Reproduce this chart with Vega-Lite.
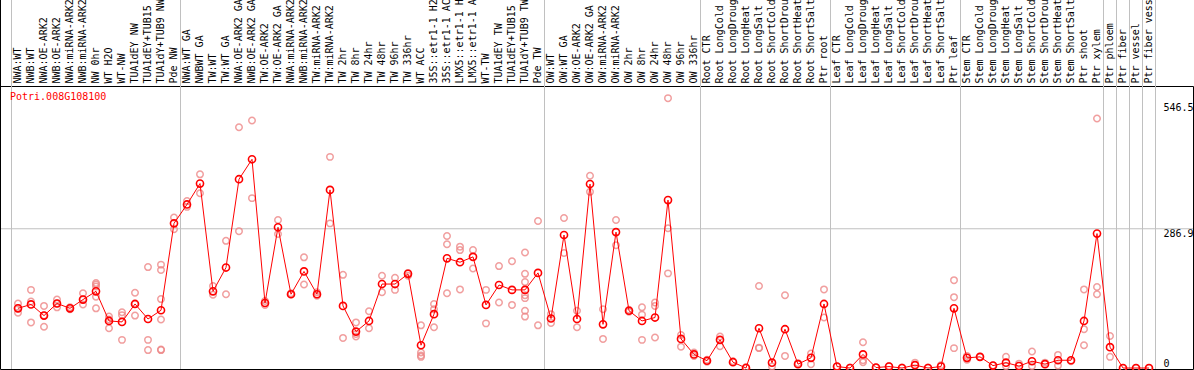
{
  "$schema": "https://vega.github.io/schema/vega-lite/v6.json",
  "width": 1193,
  "height": 283,
  "autosize": "none",
  "padding": {"left": 0, "top": 86, "right": 1, "bottom": 1},
  "background": "white",
  "config": {
    "font": "DejaVu Sans Mono",
    "view": {"stroke": "black", "strokeWidth": 1}
  },
  "datasets": {
    "means": [
      {"s": "NWA:WT", "v": 123}, {"s": "NWB:WT", "v": 131}, {"s": "NWA:OE-ARK2", "v": 108}, {"s": "NWB:OE-ARK2", "v": 133},
      {"s": "NWA:miRNA-ARK2", "v": 123}, {"s": "NWB:miRNA-ARK2", "v": 141}, {"s": "NW 0hr", "v": 158}, {"s": "WT H2O", "v": 97},
      {"s": "WT-NW", "v": 95}, {"s": "TUA1dEY NW", "v": 132}, {"s": "TUA1dEY+TUB15 NW", "v": 101}, {"s": "TUA1dY+TUB9 NW", "v": 119},
      {"s": "Pde NW", "v": 298}, {"s": "NWA:WT GA", "v": 337}, {"s": "NWBWT GA", "v": 380}, {"s": "TW:WT", "v": 158},
      {"s": "TW:WT GA", "v": 207}, {"s": "NWA:OE-ARK2 GA", "v": 389}, {"s": "NWB:OE-ARK2 GA", "v": 430}, {"s": "TW:OE-ARK2", "v": 134},
      {"s": "TW:OE-ARK2 GA", "v": 290}, {"s": "NWA:miRNA-ARK2 GA", "v": 152}, {"s": "NWB:miRNA-ARK2 GA", "v": 199}, {"s": "TW:miRNA-ARK2", "v": 152},
      {"s": "TW:miRNA-ARK2 GA", "v": 367}, {"s": "TW 2hr", "v": 128}, {"s": "TW 8hr", "v": 75}, {"s": "TW 24hr", "v": 97},
      {"s": "TW 48hr", "v": 173}, {"s": "TW 96hr", "v": 173}, {"s": "TW 336hr", "v": 194}, {"s": "WT ACC", "v": 47},
      {"s": "35S::etr1-1 H2O", "v": 111}, {"s": "35S::etr1-1 ACC", "v": 226}, {"s": "LMX5::etr1-1 H2O", "v": 218}, {"s": "LMX5::etr1-1 ACC", "v": 229},
      {"s": "WT-TW", "v": 130}, {"s": "TUA1dEY TW", "v": 171}, {"s": "TUA1dEY+TUB15 TW", "v": 161}, {"s": "TUA1dY+TUB9 TW", "v": 161},
      {"s": "Pde TW", "v": 196}, {"s": "OW:WT", "v": 102}, {"s": "OW:WT GA", "v": 274}, {"s": "OW:OE-ARK2", "v": 101},
      {"s": "OW:OE-ARK2 GA", "v": 379}, {"s": "OW:miRNA-ARK2", "v": 90}, {"s": "OW:miRNA-ARK2 GA", "v": 280}, {"s": "OW 2hr", "v": 118},
      {"s": "OW 8hr", "v": 97}, {"s": "OW 24hr", "v": 104}, {"s": "OW 48hr", "v": 346}, {"s": "OW 96hr", "v": 60},
      {"s": "OW 336hr", "v": 28}, {"s": "Root CTR", "v": 15}, {"s": "Root LongCold", "v": 58}, {"s": "Root LongDrought", "v": 12},
      {"s": "Root LongHeat", "v": 0}, {"s": "Root LongSalt", "v": 82}, {"s": "Root ShortCold", "v": 11}, {"s": "Root ShortDrought", "v": 80},
      {"s": "Root ShortHeat", "v": 8}, {"s": "Root ShortSalt", "v": 21}, {"s": "Ptr root", "v": 132}, {"s": "Leaf CTR", "v": 3},
      {"s": "Leaf LongCold", "v": 0}, {"s": "Leaf LongDrought", "v": 28}, {"s": "Leaf LongHeat", "v": 1}, {"s": "Leaf LongSalt", "v": 3},
      {"s": "Leaf ShortCold", "v": 0}, {"s": "Leaf ShortDrought", "v": 6}, {"s": "Leaf ShortHeat", "v": 0}, {"s": "Leaf ShortSalt", "v": 3},
      {"s": "Ptr leaf", "v": 123}, {"s": "Stem CTR", "v": 21}, {"s": "Stem LongCold", "v": 23}, {"s": "Stem LongDrought", "v": 5},
      {"s": "Stem LongHeat", "v": 11}, {"s": "Stem LongSalt", "v": 4}, {"s": "Stem ShortCold", "v": 14}, {"s": "Stem ShortDrought", "v": 8},
      {"s": "Stem ShortHeat", "v": 16}, {"s": "Stem ShortSalt", "v": 16}, {"s": "Ptr shoot", "v": 97}, {"s": "Ptr xylem", "v": 277},
      {"s": "Ptr phloem", "v": 43}, {"s": "Ptr fiber", "v": 0}, {"s": "Ptr vessel", "v": 0}, {"s": "Ptr fiber vessel", "v": 0}
    ],
    "reps": [
      {"s": "NWA:WT", "v": 133}, {"s": "NWA:WT", "v": 123}, {"s": "NWA:WT", "v": 114},
      {"s": "NWB:WT", "v": 161}, {"s": "NWB:WT", "v": 137}, {"s": "NWB:WT", "v": 94},
      {"s": "NWA:OE-ARK2", "v": 128}, {"s": "NWA:OE-ARK2", "v": 108}, {"s": "NWA:OE-ARK2", "v": 85},
      {"s": "NWB:OE-ARK2", "v": 141}, {"s": "NWB:OE-ARK2", "v": 133}, {"s": "NWB:OE-ARK2", "v": 125},
      {"s": "NWA:miRNA-ARK2", "v": 125}, {"s": "NWA:miRNA-ARK2", "v": 121},
      {"s": "NWB:miRNA-ARK2", "v": 154}, {"s": "NWB:miRNA-ARK2", "v": 131}, {"s": "NWB:miRNA-ARK2", "v": 141},
      {"s": "NW 0hr", "v": 175}, {"s": "NW 0hr", "v": 172}, {"s": "NW 0hr", "v": 168}, {"s": "NW 0hr", "v": 147}, {"s": "NW 0hr", "v": 123},
      {"s": "WT H2O", "v": 106}, {"s": "WT H2O", "v": 82}, {"s": "WT H2O", "v": 100},
      {"s": "WT-NW", "v": 115}, {"s": "WT-NW", "v": 109}, {"s": "WT-NW", "v": 58},
      {"s": "TUA1dEY NW", "v": 155}, {"s": "TUA1dEY NW", "v": 108}, {"s": "TUA1dEY NW", "v": 132},
      {"s": "TUA1dEY+TUB15 NW", "v": 208}, {"s": "TUA1dEY+TUB15 NW", "v": 58}, {"s": "TUA1dEY+TUB15 NW", "v": 37},
      {"s": "TUA1dY+TUB9 NW", "v": 213}, {"s": "TUA1dY+TUB9 NW", "v": 202}, {"s": "TUA1dY+TUB9 NW", "v": 142}, {"s": "TUA1dY+TUB9 NW", "v": 100}, {"s": "TUA1dY+TUB9 NW", "v": 38}, {"s": "TUA1dY+TUB9 NW", "v": 37},
      {"s": "Pde NW", "v": 310}, {"s": "Pde NW", "v": 286},
      {"s": "NWA:WT GA", "v": 344}, {"s": "NWA:WT GA", "v": 332},
      {"s": "NWBWT GA", "v": 399}, {"s": "NWBWT GA", "v": 360},
      {"s": "TW:WT", "v": 169}, {"s": "TW:WT", "v": 151},
      {"s": "TW:WT GA", "v": 262}, {"s": "TW:WT GA", "v": 152},
      {"s": "NWA:OE-ARK2 GA", "v": 496}, {"s": "NWA:OE-ARK2 GA", "v": 282},
      {"s": "NWB:OE-ARK2 GA", "v": 510}, {"s": "NWB:OE-ARK2 GA", "v": 350},
      {"s": "TW:OE-ARK2", "v": 130}, {"s": "TW:OE-ARK2", "v": 138},
      {"s": "TW:OE-ARK2 GA", "v": 305}, {"s": "TW:OE-ARK2 GA", "v": 276},
      {"s": "NWA:miRNA-ARK2 GA", "v": 154}, {"s": "NWA:miRNA-ARK2 GA", "v": 152},
      {"s": "NWB:miRNA-ARK2 GA", "v": 228}, {"s": "NWB:miRNA-ARK2 GA", "v": 172},
      {"s": "TW:miRNA-ARK2", "v": 156}, {"s": "TW:miRNA-ARK2", "v": 149},
      {"s": "TW:miRNA-ARK2 GA", "v": 435}, {"s": "TW:miRNA-ARK2 GA", "v": 298},
      {"s": "TW 2hr", "v": 192}, {"s": "TW 2hr", "v": 62},
      {"s": "TW 8hr", "v": 94}, {"s": "TW 8hr", "v": 65}, {"s": "TW 8hr", "v": 70},
      {"s": "TW 24hr", "v": 117}, {"s": "TW 24hr", "v": 82},
      {"s": "TW 48hr", "v": 190}, {"s": "TW 48hr", "v": 156},
      {"s": "TW 96hr", "v": 186}, {"s": "TW 96hr", "v": 161},
      {"s": "TW 336hr", "v": 196}, {"s": "TW 336hr", "v": 190},
      {"s": "WT ACC", "v": 88}, {"s": "WT ACC", "v": 32}, {"s": "WT ACC", "v": 23}, {"s": "WT ACC", "v": 26},
      {"s": "35S::etr1-1 H2O", "v": 132}, {"s": "35S::etr1-1 H2O", "v": 121}, {"s": "35S::etr1-1 H2O", "v": 84},
      {"s": "35S::etr1-1 ACC", "v": 272}, {"s": "35S::etr1-1 ACC", "v": 255}, {"s": "35S::etr1-1 ACC", "v": 154},
      {"s": "LMX5::etr1-1 H2O", "v": 250}, {"s": "LMX5::etr1-1 H2O", "v": 243}, {"s": "LMX5::etr1-1 H2O", "v": 162},
      {"s": "LMX5::etr1-1 ACC", "v": 243}, {"s": "LMX5::etr1-1 ACC", "v": 205},
      {"s": "WT-TW", "v": 161}, {"s": "WT-TW", "v": 92},
      {"s": "TUA1dEY TW", "v": 210}, {"s": "TUA1dEY TW", "v": 135},
      {"s": "TUA1dEY+TUB15 TW", "v": 220}, {"s": "TUA1dEY+TUB15 TW", "v": 130},
      {"s": "TUA1dY+TUB9 TW", "v": 238}, {"s": "TUA1dY+TUB9 TW", "v": 194}, {"s": "TUA1dY+TUB9 TW", "v": 177}, {"s": "TUA1dY+TUB9 TW", "v": 150}, {"s": "TUA1dY+TUB9 TW", "v": 144}, {"s": "TUA1dY+TUB9 TW", "v": 118}, {"s": "TUA1dY+TUB9 TW", "v": 106},
      {"s": "Pde TW", "v": 303}, {"s": "Pde TW", "v": 88},
      {"s": "OW:WT", "v": 111}, {"s": "OW:WT", "v": 93},
      {"s": "OW:WT GA", "v": 309}, {"s": "OW:WT GA", "v": 237},
      {"s": "OW:OE-ARK2", "v": 118}, {"s": "OW:OE-ARK2", "v": 84},
      {"s": "OW:OE-ARK2 GA", "v": 396}, {"s": "OW:OE-ARK2 GA", "v": 363},
      {"s": "OW:miRNA-ARK2", "v": 121}, {"s": "OW:miRNA-ARK2", "v": 60},
      {"s": "OW:miRNA-ARK2 GA", "v": 305}, {"s": "OW:miRNA-ARK2 GA", "v": 253},
      {"s": "OW 2hr", "v": 116}, {"s": "OW 2hr", "v": 120},
      {"s": "OW 8hr", "v": 125}, {"s": "OW 8hr", "v": 110}, {"s": "OW 8hr", "v": 58},
      {"s": "OW 24hr", "v": 135}, {"s": "OW 24hr", "v": 128}, {"s": "OW 24hr", "v": 63},
      {"s": "OW 48hr", "v": 556}, {"s": "OW 48hr", "v": 288}, {"s": "OW 48hr", "v": 195},
      {"s": "OW 96hr", "v": 68}, {"s": "OW 96hr", "v": 44},
      {"s": "OW 336hr", "v": 32}, {"s": "OW 336hr", "v": 25},
      {"s": "Root CTR", "v": 17}, {"s": "Root CTR", "v": 13},
      {"s": "Root LongCold", "v": 65}, {"s": "Root LongCold", "v": 45},
      {"s": "Root LongDrought", "v": 14},
      {"s": "Root LongHeat", "v": 2},
      {"s": "Root LongSalt", "v": 169}, {"s": "Root LongSalt", "v": 42}, {"s": "Root LongSalt", "v": 41},
      {"s": "Root ShortCold", "v": 3},
      {"s": "Root ShortDrought", "v": 150}, {"s": "Root ShortDrought", "v": 25},
      {"s": "Root ShortHeat", "v": 10},
      {"s": "Root ShortSalt", "v": 30}, {"s": "Root ShortSalt", "v": 8},
      {"s": "Ptr root", "v": 162}, {"s": "Ptr root", "v": 104},
      {"s": "Leaf CTR", "v": 3},
      {"s": "Leaf LongCold", "v": 1},
      {"s": "Leaf LongDrought", "v": 53}, {"s": "Leaf LongDrought", "v": 16}, {"s": "Leaf LongDrought", "v": 12},
      {"s": "Leaf LongHeat", "v": 1},
      {"s": "Leaf LongSalt", "v": 4},
      {"s": "Leaf ShortCold", "v": 1},
      {"s": "Leaf ShortDrought", "v": 11},
      {"s": "Leaf ShortHeat", "v": 1},
      {"s": "Leaf ShortSalt", "v": 6},
      {"s": "Ptr leaf", "v": 181}, {"s": "Ptr leaf", "v": 146}, {"s": "Ptr leaf", "v": 41},
      {"s": "Stem CTR", "v": 25}, {"s": "Stem CTR", "v": 17},
      {"s": "Stem LongCold", "v": 23},
      {"s": "Stem LongDrought", "v": 5},
      {"s": "Stem LongHeat", "v": 23}, {"s": "Stem LongHeat", "v": 4},
      {"s": "Stem LongSalt", "v": 9},
      {"s": "Stem ShortCold", "v": 34}, {"s": "Stem ShortCold", "v": 4},
      {"s": "Stem ShortDrought", "v": 11},
      {"s": "Stem ShortHeat", "v": 27}, {"s": "Stem ShortHeat", "v": 5},
      {"s": "Stem ShortSalt", "v": 14},
      {"s": "Ptr shoot", "v": 162}, {"s": "Ptr shoot", "v": 80}, {"s": "Ptr shoot", "v": 47},
      {"s": "Ptr xylem", "v": 514}, {"s": "Ptr xylem", "v": 167}, {"s": "Ptr xylem", "v": 152},
      {"s": "Ptr phloem", "v": 66}, {"s": "Ptr phloem", "v": 23},
      {"s": "Ptr fiber", "v": 0}, {"s": "Ptr vessel", "v": 0}, {"s": "Ptr fiber vessel", "v": 0}
    ],
    "bounds": [
      {"s": "NWA:WT"}, {"s": "NWA:WT GA"}, {"s": "OW:WT"}, {"s": "Root CTR"}, {"s": "Leaf CTR"},
      {"s": "Stem CTR"}, {"s": "Ptr phloem"}, {"s": "Ptr fiber"}, {"s": "Ptr vessel"}, {"s": "Ptr fiber vessel"}
    ],
    "lastbound": [{"s": "Ptr fiber vessel"}],
    "gridval": [{"v": 286.9}],
    "heading": [{"t": "Potri.008G108100"}]
  },
  "layer": [
    {
      "data": {"name": "bounds"},
      "mark": {"type": "rule", "color": "#c0c0c0", "strokeWidth": 1},
      "encoding": {
        "x": {
          "field": "s",
          "type": "nominal",
          "bandPosition": 0,
          "scale": {
            "type": "band",
            "range": [11.5, 1155.5],
            "paddingInner": 0,
            "paddingOuter": 0,
            "domain": ["NWA:WT","NWB:WT","NWA:OE-ARK2","NWB:OE-ARK2","NWA:miRNA-ARK2","NWB:miRNA-ARK2","NW 0hr","WT H2O","WT-NW","TUA1dEY NW","TUA1dEY+TUB15 NW","TUA1dY+TUB9 NW","Pde NW","NWA:WT GA","NWBWT GA","TW:WT","TW:WT GA","NWA:OE-ARK2 GA","NWB:OE-ARK2 GA","TW:OE-ARK2","TW:OE-ARK2 GA","NWA:miRNA-ARK2 GA","NWB:miRNA-ARK2 GA","TW:miRNA-ARK2","TW:miRNA-ARK2 GA","TW 2hr","TW 8hr","TW 24hr","TW 48hr","TW 96hr","TW 336hr","WT ACC","35S::etr1-1 H2O","35S::etr1-1 ACC","LMX5::etr1-1 H2O","LMX5::etr1-1 ACC","WT-TW","TUA1dEY TW","TUA1dEY+TUB15 TW","TUA1dY+TUB9 TW","Pde TW","OW:WT","OW:WT GA","OW:OE-ARK2","OW:OE-ARK2 GA","OW:miRNA-ARK2","OW:miRNA-ARK2 GA","OW 2hr","OW 8hr","OW 24hr","OW 48hr","OW 96hr","OW 336hr","Root CTR","Root LongCold","Root LongDrought","Root LongHeat","Root LongSalt","Root ShortCold","Root ShortDrought","Root ShortHeat","Root ShortSalt","Ptr root","Leaf CTR","Leaf LongCold","Leaf LongDrought","Leaf LongHeat","Leaf LongSalt","Leaf ShortCold","Leaf ShortDrought","Leaf ShortHeat","Leaf ShortSalt","Ptr leaf","Stem CTR","Stem LongCold","Stem LongDrought","Stem LongHeat","Stem LongSalt","Stem ShortCold","Stem ShortDrought","Stem ShortHeat","Stem ShortSalt","Ptr shoot","Ptr xylem","Ptr phloem","Ptr fiber","Ptr vessel","Ptr fiber vessel"]
          },
          "axis": {
            "orient": "top",
            "title": null,
            "ticks": false,
            "domain": false,
            "grid": false,
            "labelAngle": -90,
            "labelAlign": "left",
            "labelBaseline": "middle",
            "labelPadding": 3,
            "labelFont": "DejaVu Sans Mono",
            "labelFontSize": 10,
            "labelColor": "black",
            "labelOverlap": false,
            "labelLimit": 300
          }
        },
        "y": {
          "datum": 760,
          "type": "quantitative",
          "scale": {"domain": [-2, 581], "nice": false, "zero": false},
          "axis": {
            "orient": "right",
            "title": null,
            "values": [0, 286.9, 546.5],
            "format": ".1~f",
            "ticks": false,
            "domain": false,
            "grid": false,
            "labelAlign": "left",
            "labelPadding": -30,
            "labelBaseline": {"condition": {"test": "datum.value === 0", "value": "bottom"}, "value": "top"},
            "labelFont": "DejaVu Sans Mono",
            "labelFontSize": 10,
            "labelColor": "black",
            "labelOverlap": false,
            "labelFlush": false
          }
        },
        "y2": {"datum": -2}
      }
    },
    {
      "data": {"name": "lastbound"},
      "mark": {"type": "rule", "color": "#c0c0c0", "strokeWidth": 1},
      "encoding": {
        "x": {"field": "s", "type": "nominal", "bandPosition": 1},
        "y": {"datum": 760, "type": "quantitative"},
        "y2": {"datum": -2}
      }
    },
    {
      "data": {"name": "gridval"},
      "mark": {"type": "rule", "color": "#c0c0c0", "strokeWidth": 1},
      "encoding": {
        "y": {"field": "v", "type": "quantitative"}
      }
    },
    {
      "data": {"name": "heading"},
      "mark": {"type": "rule", "color": "black", "strokeWidth": 1, "xOffset": -11},
      "encoding": {
        "x": {"datum": "NWA:WT", "type": "nominal", "bandPosition": 0},
        "y": {"datum": 760, "type": "quantitative"},
        "y2": {"datum": -2}
      }
    },
    {
      "data": {"name": "reps"},
      "mark": {"type": "point", "shape": "circle", "filled": false, "color": "#ee8888", "opacity": 0.8, "strokeWidth": 1.5, "size": 42},
      "encoding": {
        "x": {"field": "s", "type": "nominal"},
        "y": {"field": "v", "type": "quantitative"}
      }
    },
    {
      "data": {"name": "means"},
      "mark": {"type": "line", "color": "#ff0000", "strokeWidth": 1},
      "encoding": {
        "x": {"field": "s", "type": "nominal"},
        "y": {"field": "v", "type": "quantitative"}
      }
    },
    {
      "data": {"name": "means"},
      "mark": {"type": "point", "shape": "circle", "filled": false, "color": "#ff0000", "opacity": 1, "strokeWidth": 1.6, "size": 50},
      "encoding": {
        "x": {"field": "s", "type": "nominal"},
        "y": {"field": "v", "type": "quantitative"}
      }
    },
    {
      "data": {"name": "heading"},
      "mark": {"type": "text", "align": "left", "baseline": "middle", "color": "#ff0000", "font": "DejaVu Sans Mono", "fontSize": 10, "dx": -1.5},
      "encoding": {
        "x": {"datum": "NWA:WT", "type": "nominal", "bandPosition": 0},
        "y": {"datum": 559, "type": "quantitative"},
        "text": {"field": "t", "type": "nominal"}
      }
    }
  ]
}
